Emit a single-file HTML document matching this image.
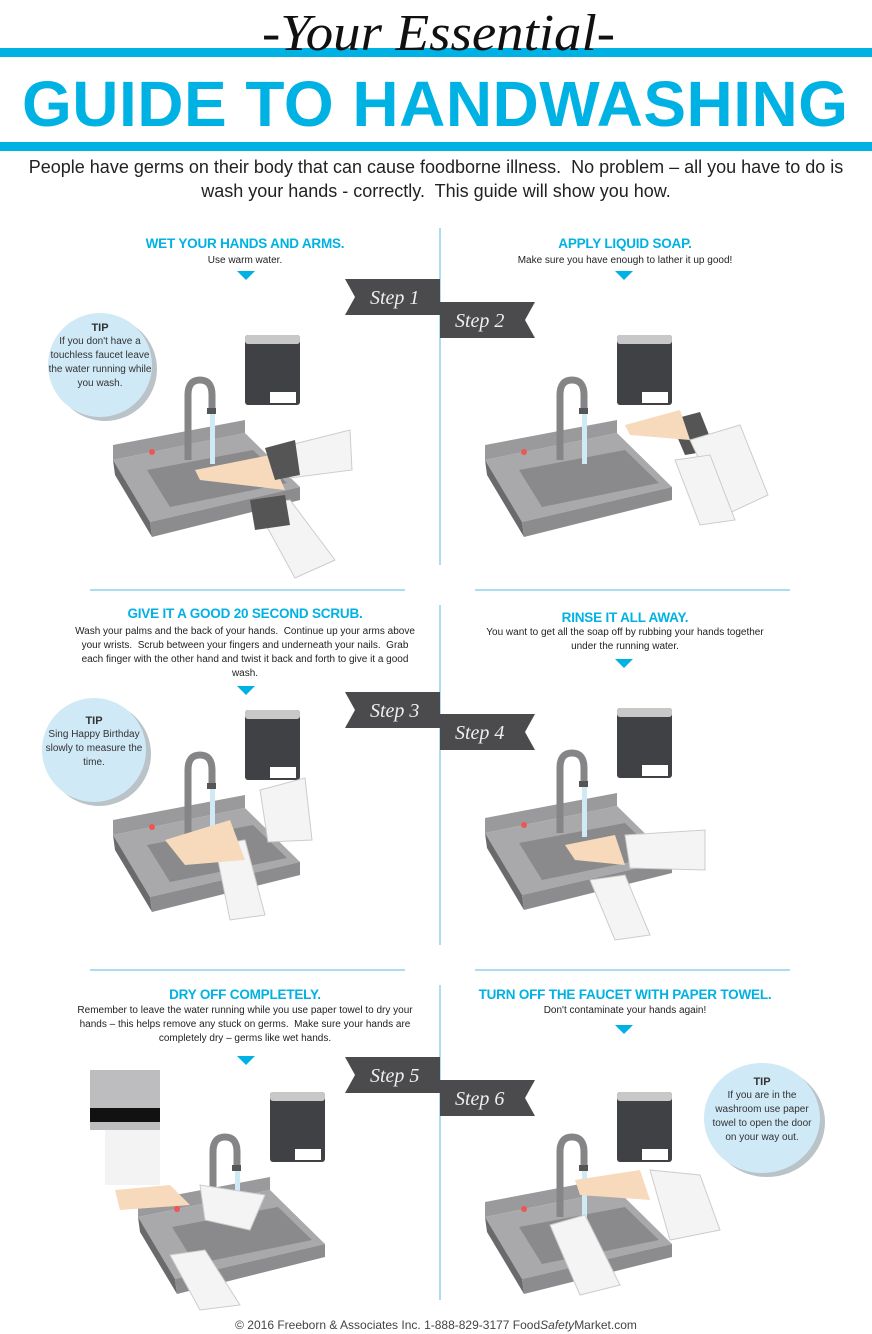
<!DOCTYPE html>
<html><head><meta charset="utf-8"><style>
*{margin:0;padding:0;box-sizing:border-box}
body{width:872px;height:1334px;background:#fff;position:relative;overflow:hidden;font-family:"Liberation Sans",sans-serif;color:#222}
.abs{position:absolute}
.bar{position:absolute;left:0;width:872px;height:9px;background:#00b2e3}
.h{position:absolute;text-align:center;color:#00b2e3;font-weight:bold;font-size:13.5px;letter-spacing:-0.2px}
.t{position:absolute;text-align:center;font-size:10px;line-height:14px;color:#222}
.tip{position:absolute;border-radius:50%;background:#cfe9f6;box-shadow:5px 4px 0 #b9c3c8;text-align:center;font-size:10px;line-height:14px;color:#333}
.tip b{display:block;font-size:11px;color:#333}
</style></head><body>
<div class="bar" style="top:48px"></div>
<div class="bar" style="top:142px"></div>
<svg class="abs" style="left:0;top:0" width="872" height="150">
<text x="262" y="50" textLength="353" lengthAdjust="spacingAndGlyphs" font-family="Liberation Serif,serif" font-style="italic" font-size="52" fill="#111">-Your Essential-</text>
<text x="22" y="126" textLength="826" lengthAdjust="spacing" font-family="Liberation Sans,sans-serif" font-weight="bold" font-size="64" fill="#00b2e3">GUIDE TO HANDWASHING</text>
</svg>
<div class="abs" style="left:0;top:155px;width:872px;text-align:center;font-size:18px;line-height:24px;color:#222">People have germs on their body that can cause foodborne illness.&nbsp; No problem – all you have to do is<br>wash your hands - correctly.&nbsp; This guide will show you how.</div>

<svg class="abs" style="left:0;top:0" width="872" height="1334">
<defs>
<g id="sink">
<rect x="245" y="335" width="55" height="70" rx="3" fill="#3f4144"/>
<rect x="245" y="335" width="55" height="9" rx="3" fill="#c8c8c8"/>
<rect x="270" y="392" width="26" height="11" fill="#fff"/>
<polygon points="113,445 245,420 245,433 113,460" fill="#9a9a9c"/>
<polygon points="113,460 245,433 300,487 150,522" fill="#a9a9ab"/>
<polygon points="113,460 150,522 152,537 115,475" fill="#6a6a6c"/>
<polygon points="150,522 300,487 300,500 152,537" fill="#8c8c8e"/>
<polygon points="147,470 253,450 287,483 170,507" fill="#8a8a8c"/>
<path d="M188,460 L188,395 Q188,380 200,380 Q212,380 212,395 L212,410" fill="none" stroke="#858587" stroke-width="7"/>
<rect x="207" y="408" width="9" height="6" fill="#555"/>
<rect x="210" y="414" width="5" height="50" fill="#cfeaf5"/>
<circle cx="152" cy="452" r="3" fill="#e55"/>
</g>
<polygon id="b1" points="0,0 95,0 95,36 0,36 10,18" fill="#4b4b4d"/>
</defs>
<line x1="440" y1="228" x2="440" y2="565" stroke="#8fd0ee" stroke-width="1.5"/>
<line x1="440" y1="605" x2="440" y2="945" stroke="#8fd0ee" stroke-width="1.5"/>
<line x1="440" y1="985" x2="440" y2="1300" stroke="#8fd0ee" stroke-width="1.5"/>
<line x1="90" y1="590" x2="405" y2="590" stroke="#8fd0ee" stroke-width="1.5"/>
<line x1="475" y1="590" x2="790" y2="590" stroke="#8fd0ee" stroke-width="1.5"/>
<line x1="90" y1="970" x2="405" y2="970" stroke="#8fd0ee" stroke-width="1.5"/>
<line x1="475" y1="970" x2="790" y2="970" stroke="#8fd0ee" stroke-width="1.5"/>
<g fill="#00b2e3">
<polygon points="237,271 255,271 246,280"/><polygon points="615,271 633,271 624,280"/>
<polygon points="237,686 255,686 246,695"/><polygon points="615,659 633,659 624,668"/>
<polygon points="237,1056 255,1056 246,1065"/><polygon points="615,1025 633,1025 624,1034"/>
</g>
<use href="#sink"/>
<use href="#sink" transform="translate(372,0)"/>
<use href="#sink" transform="translate(0,375)"/>
<use href="#sink" transform="translate(372,373)"/>
<use href="#sink" transform="translate(25,757)"/>
<use href="#sink" transform="translate(372,757)"/>
<g>
<polygon points="270,450 350,430 352,470 290,478" fill="#f4f4f4" stroke="#ccc"/>
<polygon points="195,470 270,455 285,490 200,480" fill="#f7d9bc"/>
<polygon points="265,448 295,440 300,475 275,480" fill="#555"/>
<polygon points="255,505 290,500 335,560 295,578" fill="#f4f4f4" stroke="#ccc"/>
<polygon points="250,500 285,495 290,525 255,530" fill="#555"/>
<polygon points="670,420 700,412 715,450 685,455" fill="#555"/>
<polygon points="690,440 740,425 768,495 725,515" fill="#f4f4f4" stroke="#ccc"/>
<polygon points="675,460 710,455 735,520 700,525" fill="#f4f4f4" stroke="#ccc"/>
<polygon points="625,425 680,410 690,440 630,435" fill="#f7d9bc"/>
<polygon points="260,790 305,778 312,840 268,842" fill="#f4f4f4" stroke="#ccc"/>
<polygon points="215,845 245,840 265,915 230,920" fill="#f4f4f4" stroke="#ccc"/>
<polygon points="165,840 230,820 245,860 185,865" fill="#f7d9bc"/>
<polygon points="625,835 705,830 705,870 630,868" fill="#f4f4f4" stroke="#ccc"/>
<polygon points="590,880 625,875 650,935 615,940" fill="#f4f4f4" stroke="#ccc"/>
<polygon points="565,845 615,835 625,865 575,860" fill="#f7d9bc"/>
<rect x="90" y="1070" width="70" height="60" fill="#bdbdbf"/>
<rect x="90" y="1108" width="70" height="14" fill="#111"/>
<rect x="105" y="1130" width="55" height="55" fill="#f3f3f3"/>
<polygon points="115,1190 170,1185 190,1205 120,1210" fill="#f7d9bc"/>
<polygon points="200,1185 265,1195 250,1230 205,1220" fill="#f4f4f4" stroke="#ccc"/>
<polygon points="170,1255 205,1250 240,1305 200,1310" fill="#f4f4f4" stroke="#ccc"/>
<polygon points="650,1170 700,1175 720,1230 670,1240" fill="#f4f4f4" stroke="#ccc"/>
<polygon points="575,1180 640,1170 650,1200 580,1195" fill="#f7d9bc"/>
<polygon points="550,1225 585,1215 620,1285 580,1295" fill="#f4f4f4" stroke="#ccc"/>
</g>
<use href="#b1" transform="translate(345,279)"/>
<use href="#b1" transform="translate(535,302) scale(-1,1)"/>
<use href="#b1" transform="translate(345,692)"/>
<use href="#b1" transform="translate(535,714) scale(-1,1)"/>
<use href="#b1" transform="translate(345,1057)"/>
<use href="#b1" transform="translate(535,1080) scale(-1,1)"/>
<g fill="#eee" font-family="Liberation Serif,serif" font-style="italic" font-size="20">
<text x="370" y="304">Step 1</text><text x="455" y="327">Step 2</text>
<text x="370" y="717">Step 3</text><text x="455" y="739">Step 4</text>
<text x="370" y="1082">Step 5</text><text x="455" y="1105">Step 6</text>
</g>
</svg>

<div class="h" style="left:90px;top:236px;width:310px">WET YOUR HANDS AND ARMS.</div>
<div class="t" style="left:90px;top:254px;width:310px">Use warm water.</div>
<div class="h" style="left:470px;top:236px;width:310px">APPLY LIQUID SOAP.</div>
<div class="t" style="left:470px;top:254px;width:310px">Make sure you have enough to lather it up good!</div>
<div class="h" style="left:80px;top:606px;width:330px">GIVE IT A GOOD 20 SECOND SCRUB.</div>
<div class="t" style="left:70px;top:625px;width:350px">Wash your palms and the back of your hands.&nbsp; Continue up your arms above your wrists.&nbsp; Scrub between your fingers and underneath your nails.&nbsp; Grab each finger with the other hand and twist it back and forth to give it a good wash.</div>
<div class="h" style="left:470px;top:610px;width:310px">RINSE IT ALL AWAY.</div>
<div class="t" style="left:480px;top:626px;width:290px">You want to get all the soap off by rubbing your hands together under the running water.</div>
<div class="h" style="left:90px;top:987px;width:310px">DRY OFF COMPLETELY.</div>
<div class="t" style="left:75px;top:1004px;width:340px">Remember to leave the water running while you use paper towel to dry your hands – this helps remove any stuck on germs.&nbsp; Make sure your hands are completely dry – germs like wet hands.</div>
<div class="h" style="left:460px;top:987px;width:330px">TURN OFF THE FAUCET WITH PAPER TOWEL.</div>
<div class="t" style="left:470px;top:1004px;width:310px">Don't contaminate your hands again!</div>

<div class="tip" style="left:48px;top:313px;width:104px;height:104px;padding-top:8px"><b>TIP</b>If you don't have a touchless faucet leave the water running while you wash.</div>
<div class="tip" style="left:42px;top:698px;width:104px;height:104px;padding-top:16px"><b>TIP</b>Sing Happy Birthday slowly to measure the time.</div>
<div class="tip" style="left:704px;top:1063px;width:116px;height:110px;padding:12px 8px 0"><b>TIP</b>If you are in the washroom use paper towel to open the door on your way out.</div>

<div class="abs" style="left:0;top:1318px;width:872px;text-align:center;font-size:12px;color:#444">© 2016 Freeborn &amp; Associates Inc. 1-888-829-3177 Food<i>Safety</i>Market.com</div>
</body></html>
